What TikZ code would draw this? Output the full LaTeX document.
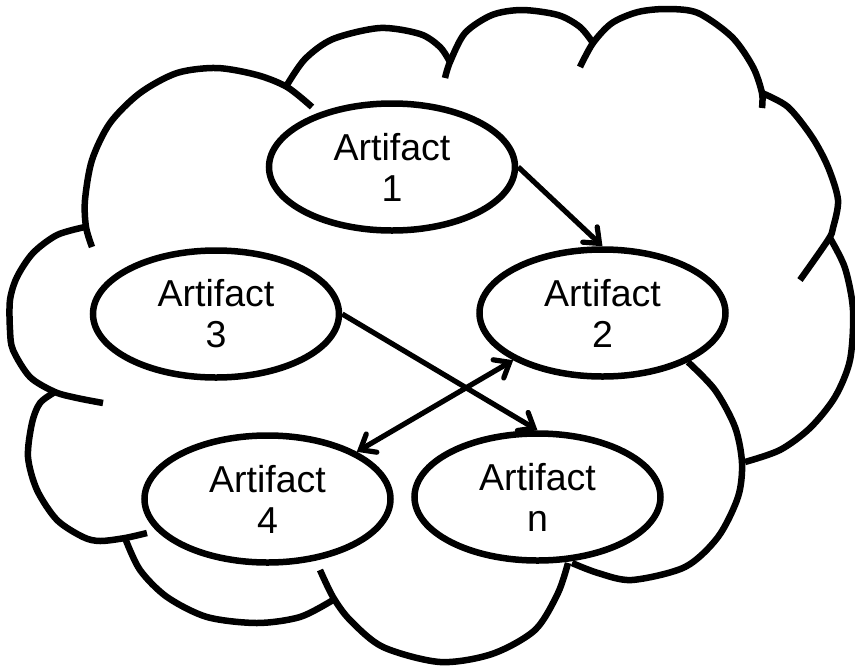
\documentclass[tikz,border=0pt]{standalone}
\usepackage{fontspec}
\setmainfont{Liberation Sans}
\usetikzlibrary{shapes.geometric,arrows.meta}
\begin{document}
\begin{tikzpicture}[x=1pt,y=-1pt,
  cloudline/.style={line width=6.5pt, line cap=butt},
  artifact/.style={ellipse, draw, line width=6.5pt, fill=white,
    minimum width=246pt, minimum height=127pt, inner sep=0pt, align=center,
    font=\fontsize{37.5}{41}\selectfont},
  link/.style={line width=5.2pt},
  >={Straight Barb[length=13pt,width=21pt,line cap=round]}]
\useasboundingbox (0,0) rectangle (855,665);
% cloud lobes
\draw[cloudline] plot[smooth] coordinates {(92,247) (86,227) (85,200) (92,160) (110,123) (140,93) (177,73) (217,68) (257,75) (287,87) (312,107)};
\draw[cloudline] plot[smooth] coordinates {(287,85) (305,59) (333,39) (380,28) (420,34) (440,47) (450,62)};
\draw[cloudline] plot[smooth] coordinates {(445,78) (450,62) (465,33) (492,15) (522,10) (558,15) (580,27) (593,43)};
\draw[cloudline] plot[smooth] coordinates {(580,67) (593,43) (612,23) (638,12) (667,9) (698,13) (732,37) (753,67) (762,93) (762,108)};
\draw[cloudline] plot[smooth] coordinates {(762,93) (788,107) (812,137) (828,167) (838,200) (833,228) (828,240) (800,280)};
\draw[cloudline] plot[smooth] coordinates {(830,238) (845,268) (853,310) (850,360) (835,397) (810,428) (780,450) (745,462)};
\draw[cloudline] plot[smooth] coordinates {(688,362) (715,390) (735,427) (742,463) (738,497) (718,537) (685,567) (632,580) (598,573) (572,563)};
\draw[cloudline] plot[smooth] coordinates {(568,563) (558,593) (535,630) (492,654) (440,662) (383,647) (350,620) (333,597) (320,570)};
\draw[cloudline] plot[smooth] coordinates {(333,600) (300,617) (257,623) (207,617) (167,597) (140,570) (125,538)};
\draw[cloudline] plot[smooth] coordinates {(147,533) (125,538) (100,541) (83,537) (57,520) (37,490) (28,457) (32,423) (40,403) (55,392)};
\draw[cloudline] plot[smooth] coordinates {(85,227) (57,235) (33,253) (17,277) (10,300) (10,330) (13,350) (30,377) (55,392) (77,398) (103,403)};
% artifacts
\node[artifact] (a1) at (392,167) {Artifact\\1};
\node[artifact] (a3) at (216,314) {Artifact\\3};
\node[artifact] (a2) at (602.5,313) {Artifact\\2};
\node[artifact] (a4) at (267.5,499) {Artifact\\4};
\node[artifact] (an) at (537.5,497) {Artifact\\n};
% connectors
\draw[link,->] (a1.east) -- (a2.north);
\draw[link,->] (a3.east) -- (an.north);
\draw[link,<->] (a4.north east) -- (a2.south west);
\end{tikzpicture}
\end{document}
